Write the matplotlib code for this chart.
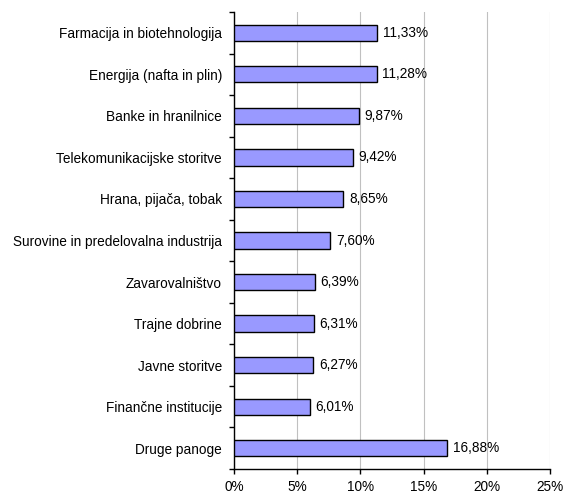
import matplotlib
matplotlib.use("Agg")
import matplotlib.pyplot as plt
import numpy as np

categories = ["Farmacija in biotehnologija", "Energija (nafta in plin)", "Banke in hranilnice",
              "Telekomunikacijske storitve", "Hrana, pijača, tobak",
              "Surovine in predelovalna industrija", "Zavarovalništvo", "Trajne dobrine",
              "Javne storitve", "Finančne institucije", "Druge panoge"]
values = [11.33, 11.28, 9.87, 9.42, 8.65, 7.60, 6.39, 6.31, 6.27, 6.01, 16.88]
xticks = [0, 5, 10, 15, 20, 25]
xticklabels = ["0%", "5%", "10%", "15%", "20%", "25%"]

plt.rcParams['font.family'] = ['Liberation Sans', 'DejaVu Sans']
fig = plt.figure(figsize=(5.63, 4.94), dpi=100)
W, H = 563, 494
ax = fig.add_axes([234/W, 1-469/H, (550-234)/W, (469-12)/H])

fs = 9.8
y = np.arange(len(categories))
ax.barh(y, values, height=0.39, color="#9999FF", edgecolor="black", linewidth=1.0, zorder=3)
for yi, v in zip(y, values):
    ax.text(v + 0.45, yi, f"{v:.2f}%".replace(".", ","), va="center", ha="left", fontsize=fs, color="black")

ax.set_xlim(0, 25)
ax.set_ylim(len(categories) - 0.5, -0.5)
ax.set_xticks(xticks)
ax.set_xticklabels(xticklabels, fontsize=fs)
ax.set_yticks(y)
ax.set_yticklabels(categories, fontsize=fs)
ax.set_yticks(np.arange(-0.5, len(categories)), minor=True)
ax.tick_params(axis='y', which='major', length=0, pad=8.6)
ax.tick_params(axis='y', which='minor', length=3.6, direction='out', width=1)
ax.tick_params(axis='x', which='major', length=3.6, direction='out', width=1, pad=4)
ax.grid(axis='x', color="#C0C0C0", linewidth=0.8, zorder=0)
ax.spines['top'].set_visible(False)
ax.spines['right'].set_visible(False)
for s in ['left', 'bottom']:
    ax.spines[s].set_linewidth(1.0)
fig.savefig("out.png", dpi=100)
